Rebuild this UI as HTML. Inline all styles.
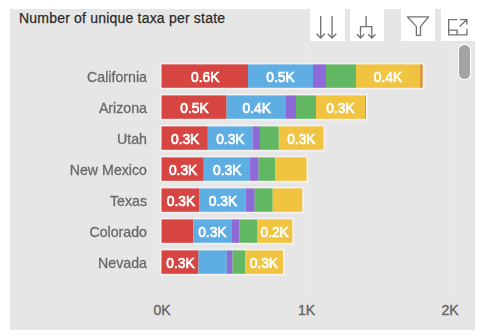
<!DOCTYPE html>
<html><head><meta charset="utf-8"><style>
html,body{margin:0;padding:0;width:480px;height:336px;overflow:hidden;background:#fff;}
#wrap{position:absolute;left:0;top:0;width:480px;height:336px;filter:blur(0.45px);}
#panel{position:absolute;left:10px;top:9px;width:465px;height:321px;background:#e6e6e6;}
.abs{position:absolute;left:0;top:0;}
#title{position:absolute;left:19px;top:9.5px;font-family:"Liberation Sans",sans-serif;font-size:14px;letter-spacing:0.2px;line-height:16px;color:#2a2a2a;-webkit-text-stroke:0.25px #2a2a2a;white-space:nowrap;}
.cat{position:absolute;left:0;width:147px;height:23.4px;line-height:23.4px;margin-top:1.6px;text-align:right;font-family:"Liberation Sans",sans-serif;font-size:14.2px;color:#6a6a6a;-webkit-text-stroke:0.3px #6a6a6a;white-space:nowrap;}
.lab{position:absolute;height:23.4px;line-height:23.4px;text-align:center;font-family:"Liberation Sans",sans-serif;font-weight:normal;font-size:14.5px;color:#fff;-webkit-text-stroke:0.7px #fff;white-space:nowrap;}
.lab{transform:translateY(2.4px) scaleX(0.95);}
.halo{fill:none;stroke:rgba(255,250,248,0.6);stroke-width:3.4;}
.ax{position:absolute;top:301.5px;width:40px;text-align:center;font-family:"Liberation Sans",sans-serif;font-size:14px;line-height:16px;color:#666;-webkit-text-stroke:0.4px #666;}
.ib{position:absolute;top:0;height:41px;background:#fff;}
#thumb{position:absolute;left:458.5px;top:45px;width:11px;height:34px;border-radius:6px;background:#a3a3a3;box-shadow:0 0 0 1.2px #fbfbfb;}
</style></head><body><div id="wrap">
<div id="panel"></div>
<div id="title">Number of unique taxa per state</div>
<svg class="abs" width="480" height="336" viewBox="0 0 480 336">
<path d="M306.5 44V296M450.5 44V296" stroke="rgba(255,255,255,0.18)" stroke-width="2"/>
<rect class="halo" x="161.5" y="64.40" width="261.30" height="23.4"/>
<rect x="161.5" y="64.40" width="86.50" height="23.4" fill="#d64541"/>
<rect x="248" y="64.40" width="65.00" height="23.4" fill="#5faee3"/>
<rect x="313" y="64.40" width="13.00" height="23.4" fill="#8e6ad8"/>
<rect x="326" y="64.40" width="30.00" height="23.4" fill="#62b862"/>
<rect x="356" y="64.40" width="64.00" height="23.4" fill="#f0c340"/>
<rect x="420" y="64.40" width="2.80" height="23.4" fill="#d99a48"/>
<rect class="halo" x="161.5" y="95.40" width="204.50" height="23.4"/>
<rect x="161.5" y="95.40" width="65.10" height="23.4" fill="#d64541"/>
<rect x="226.6" y="95.40" width="59.40" height="23.4" fill="#5faee3"/>
<rect x="286" y="95.40" width="10.00" height="23.4" fill="#8e6ad8"/>
<rect x="296" y="95.40" width="20.00" height="23.4" fill="#62b862"/>
<rect x="316" y="95.40" width="49.00" height="23.4" fill="#f0c340"/>
<rect x="365" y="95.40" width="1.00" height="23.4" fill="#d99a48"/>
<rect class="halo" x="161.5" y="126.40" width="162.00" height="23.4"/>
<rect x="161.5" y="126.40" width="46.30" height="23.4" fill="#d64541"/>
<rect x="207.8" y="126.40" width="44.70" height="23.4" fill="#5faee3"/>
<rect x="252.5" y="126.40" width="7.50" height="23.4" fill="#8e6ad8"/>
<rect x="260" y="126.40" width="18.80" height="23.4" fill="#62b862"/>
<rect x="278.8" y="126.40" width="44.70" height="23.4" fill="#f0c340"/>
<rect class="halo" x="161.5" y="157.40" width="145.10" height="23.4"/>
<rect x="161.5" y="157.40" width="42.20" height="23.4" fill="#d64541"/>
<rect x="203.7" y="157.40" width="46.40" height="23.4" fill="#5faee3"/>
<rect x="250.1" y="157.40" width="8.50" height="23.4" fill="#8e6ad8"/>
<rect x="258.6" y="157.40" width="16.40" height="23.4" fill="#62b862"/>
<rect x="275" y="157.40" width="31.60" height="23.4" fill="#f0c340"/>
<rect class="halo" x="161.5" y="188.40" width="140.80" height="23.4"/>
<rect x="161.5" y="188.40" width="38.00" height="23.4" fill="#d64541"/>
<rect x="199.5" y="188.40" width="46.10" height="23.4" fill="#5faee3"/>
<rect x="245.6" y="188.40" width="9.10" height="23.4" fill="#8e6ad8"/>
<rect x="254.7" y="188.40" width="18.00" height="23.4" fill="#62b862"/>
<rect x="272.7" y="188.40" width="29.60" height="23.4" fill="#f0c340"/>
<rect class="halo" x="161.5" y="219.40" width="130.80" height="23.4"/>
<rect x="161.5" y="219.40" width="31.80" height="23.4" fill="#d64541"/>
<rect x="193.3" y="219.40" width="38.70" height="23.4" fill="#5faee3"/>
<rect x="232" y="219.40" width="7.60" height="23.4" fill="#8e6ad8"/>
<rect x="239.6" y="219.40" width="17.40" height="23.4" fill="#62b862"/>
<rect x="257" y="219.40" width="35.30" height="23.4" fill="#f0c340"/>
<rect class="halo" x="161.5" y="250.40" width="121.50" height="23.4"/>
<rect x="161.5" y="250.40" width="37.00" height="23.4" fill="#d64541"/>
<rect x="198.5" y="250.40" width="28.30" height="23.4" fill="#5faee3"/>
<rect x="226.8" y="250.40" width="5.70" height="23.4" fill="#8e6ad8"/>
<rect x="232.5" y="250.40" width="12.80" height="23.4" fill="#62b862"/>
<rect x="245.3" y="250.40" width="37.70" height="23.4" fill="#f0c340"/>
</svg>
<div class="cat" style="top:64.4px">California</div>
<div class="lab" style="left:161.5px;top:64.4px;width:86.50px">0.6K</div>
<div class="lab" style="left:248px;top:64.4px;width:65.00px">0.5K</div>
<div class="lab" style="left:356px;top:64.4px;width:64.00px">0.4K</div>
<div class="cat" style="top:95.4px">Arizona</div>
<div class="lab" style="left:161.5px;top:95.4px;width:65.10px">0.5K</div>
<div class="lab" style="left:226.6px;top:95.4px;width:59.40px">0.4K</div>
<div class="lab" style="left:316px;top:95.4px;width:49.00px">0.3K</div>
<div class="cat" style="top:126.4px">Utah</div>
<div class="lab" style="left:161.5px;top:126.4px;width:46.30px">0.3K</div>
<div class="lab" style="left:207.8px;top:126.4px;width:44.70px">0.3K</div>
<div class="lab" style="left:278.8px;top:126.4px;width:44.70px">0.3K</div>
<div class="cat" style="top:157.4px">New Mexico</div>
<div class="lab" style="left:161.5px;top:157.4px;width:42.20px">0.3K</div>
<div class="lab" style="left:203.7px;top:157.4px;width:46.40px">0.3K</div>
<div class="cat" style="top:188.4px">Texas</div>
<div class="lab" style="left:161.5px;top:188.4px;width:38.00px">0.3K</div>
<div class="lab" style="left:199.5px;top:188.4px;width:46.10px">0.3K</div>
<div class="cat" style="top:219.4px">Colorado</div>
<div class="lab" style="left:193.3px;top:219.4px;width:38.70px">0.3K</div>
<div class="lab" style="left:257px;top:219.4px;width:35.30px">0.2K</div>
<div class="cat" style="top:250.4px">Nevada</div>
<div class="lab" style="left:161.5px;top:250.4px;width:37.00px">0.3K</div>
<div class="lab" style="left:245.3px;top:250.4px;width:37.70px">0.3K</div>
<div class="ax" style="left:142px">0K</div>
<div class="ax" style="left:286.5px">1K</div>
<div class="ax" style="left:430px">2K</div>
<div class="ib" style="left:310px;width:34.5px"></div>
<div class="ib" style="left:350px;width:34px"></div>
<div class="ib" style="left:401px;width:34px"></div>
<div class="ib" style="left:441px;width:34.5px"></div>
<svg class="abs" width="480" height="60" viewBox="0 0 480 60" fill="none" stroke="#747474" stroke-width="1.35">
 <path d="M320.7 16V38M316.5 33.8l4.2 4.2 4.2-4.2M332.1 16V38M327.9 33.8l4.2 4.2 4.2-4.2"/>
 <path d="M366.1 16V26.6M360.5 38V26.6H371.8V38M356.9 34.2l3.6 3.8 3.6-3.8M368.2 34.2l3.6 3.8 3.6-3.8"/>
 <path stroke-linejoin="round" d="M407.4 16.8H428.6L420.5 26.6V35.3H416.4V26.6Z"/>
 <path d="M457.4 19.6H448.7V34.9H466.9V28.7M448.7 30.1H457.1V34.9M459.7 26.5L466.9 19.6M460 19.6H466.9V24.6"/>
</svg>
<div id="thumb"></div>
</div></body></html>
